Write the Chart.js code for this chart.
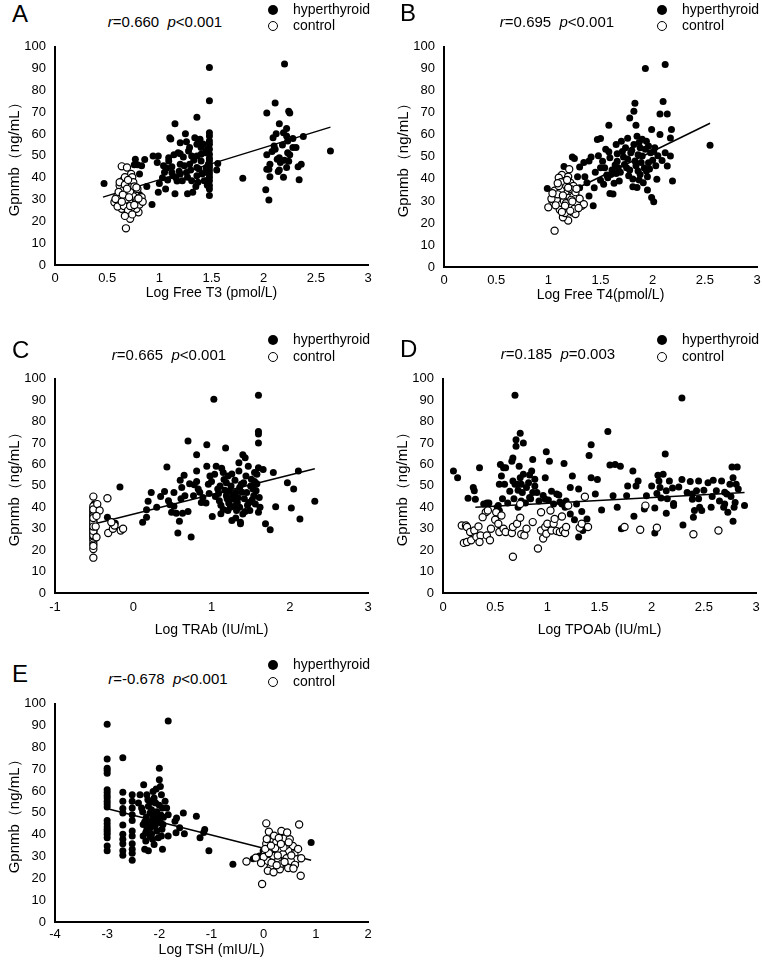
<!DOCTYPE html>
<html><head><meta charset="utf-8">
<script src="https://cdn.jsdelivr.net/npm/chart.js@4.4.1/dist/chart.umd.min.js"></script>
<style>
html,body{margin:0;padding:0;background:#fff;}
body{width:762px;height:964px;position:relative;overflow:hidden;font-family:'Liberation Sans',Arial,sans-serif;color:#000;}
canvas{position:absolute;}
.t{position:absolute;white-space:nowrap;}
.dot{position:absolute;border-radius:50%;box-sizing:border-box;}
</style></head><body>
<script>
// ---------------- DATA ----------------
const panelLetters = ['A','B','C','D','E'];
const rValues = ['0.660','0.695','0.665','0.185','-0.678'];
const pValues = ['<0.001','<0.001','<0.001','=0.003','<0.001'];
const legendLabels = ['hyperthyroid','control'];
const yTitle = 'Gpnmb（ng/mL）';
const xTitles = ['Log Free T3 (pmol/L)','Log Free T4(pmol/L)','Log TRAb (IU/mL)','Log TPOAb (IU/mL)','Log TSH (mIU/L)'];
const yTicks = [0,10,20,30,40,50,60,70,80,90,100];
const yTickLabels = ['0','10','20','30','40','50','60','70','80','90','100'];
const xTicksA = [0,0.5,1,1.5,2,2.5,3];
const xTickLabelsA = ['0','0.5','1','1.5','2','2.5','3'];
const xTicksC = [-1,0,1,2,3];
const xTickLabelsC = ['-1','0','1','2','3'];
const xTicksE = [-4,-3,-2,-1,0,1,2];
const xTickLabelsE = ['-4','-3','-2','-1','0','1','2'];

const hyperA = [[0.47,37.4],[0.61,31],[0.67,26.5],[0.69,28],[0.70,33.3],[0.76,46],[0.79,46],[0.77,48.5],[0.81,41.7],[0.81,32.3],[0.86,48.3],[0.93,27.7],[0.94,50],[0.99,50],[0.98,47],[0.99,33.3],[1.0,37.4],[1.04,45.5],[1.07,44.4],[1.06,34.8],[1.10,58.3],[1.11,57.8],[1.09,49.2],[1.09,47.7],[1.12,42.4],[1.13,40.9],[1.15,64.7],[1.15,32.6],[1.18,51.5],[1.20,51],[1.20,56],[1.20,46.2],[1.20,41.7],[1.22,38.6],[1.25,60.2],[1.26,42.4],[1.27,32.6],[1.28,52.3],[1.29,53.8],[1.29,46.2],[1.31,38.6],[1.32,33.3],[1.34,58.3],[1.36,67.7],[1.36,55.3],[1.36,50],[1.36,44.7],[1.36,40.9],[1.37,37.9],[1.39,57.6],[1.40,53.8],[1.40,50.8],[1.40,47.7],[1.41,41.7],[1.43,38.6],[1.44,51.5],[1.45,44.7],[1.45,38.6],[1.47,46.2],[1.48,90.5],[1.48,75.3],[1.48,60.6],[1.48,59.1],[1.48,56.8],[1.48,55.3],[1.48,53],[1.48,50.8],[1.48,48.9],[1.48,47.7],[1.48,45.9],[1.48,44.7],[1.48,43.2],[1.48,41.7],[1.48,40.2],[1.48,38.6],[1.48,36.4],[1.48,34.8],[1.48,31.8],[1.03,40],[1.08,39],[1.12,45],[1.16,40],[1.17,38.5],[1.19,43],[1.23,49.5],[1.24,45.5],[1.27,40.2],[1.30,43.5],[1.33,48],[1.35,36],[1.38,44],[1.42,55.5],[1.44,42.5],[1.46,36.5],[1.46,53],[1.14,50.5],[0.88,36],[0.83,45.5],[1.05,42.5],[1.26,56.5],[1.38,57],[1.31,50],[1.56,46.5],[1.55,43.5],[1.80,39.8],[2.03,50.5],[2.03,43.9],[2.05,43.9],[2.02,34.5],[2.05,29.8],[2.06,40.5],[2.03,69.7],[2.06,46.2],[2.10,54.5],[2.09,58.3],[2.11,74.2],[2.12,60.2],[2.11,53],[2.15,49.2],[2.15,43.5],[2.14,42.9],[2.15,64.7],[2.16,47],[2.19,60.6],[2.20,48],[2.19,40.2],[2.20,92.1],[2.22,59.1],[2.22,62.6],[2.23,56.8],[2.24,70.5],[2.25,69.7],[2.23,51.5],[2.25,50.5],[2.22,44.7],[2.28,58],[2.28,53.8],[2.31,53.8],[2.33,45],[2.36,46.2],[2.34,39.1],[2.38,58.9],[2.64,52.3],[2.08,52],[2.13,48.5],[2.18,55],[2.24,47.5]];
const ctrlA = [[0.68,16.8],[0.72,21.2],[0.71,24.2],[0.80,24.2],[0.78,25.8],[0.64,45.2],[0.69,44.7],[0.73,41.7],[0.74,40.2],[0.65,38.6],[0.71,37.9],[0.75,37.9],[0.62,36.4],[0.68,35.6],[0.73,35.6],[0.64,33.3],[0.70,32.6],[0.77,33.3],[0.59,31.1],[0.65,30.3],[0.73,30.3],[0.83,31.1],[0.57,28.8],[0.62,28],[0.69,27.7],[0.77,28.8],[0.64,25.8],[0.73,26.2],[0.81,27.7],[0.60,26.8],[0.67,40.2],[0.62,37.9],[0.66,34.5],[0.71,29.5],[0.75,31.5],[0.79,30],[0.63,31.8],[0.68,30],[0.72,33.8],[0.66,27],[0.70,25],[0.74,23.2],[0.61,33.5],[0.67,36.8],[0.70,39],[0.76,36],[0.79,34.8],[0.84,29],[0.58,30.2],[0.65,32.2],[0.69,35],[0.72,27],[0.76,27.5],[0.80,30.5],[0.64,29],[0.78,35.5],[0.71,31],[0.67,22.5]];
const lineA = [[0.46,31.1],[2.64,63.2]];

const hyperB = [[0.99,35.6],[1.15,45.6],[1.23,50],[1.25,49.3],[1.30,45.4],[1.37,38.3],[1.39,32.3],[1.39,48.1],[1.41,49.9],[1.43,27.8],[1.47,57.9],[1.50,58.3],[1.50,45.1],[1.50,39.4],[1.53,37.6],[1.54,45.1],[1.56,41.8],[1.58,64.4],[1.58,52.3],[1.59,49.6],[1.59,33.4],[1.62,33.1],[1.64,46.3],[1.65,55.6],[1.66,51.4],[1.67,45.1],[1.68,39.1],[1.70,57.1],[1.72,49.9],[1.74,54.1],[1.75,45.1],[1.77,41.4],[1.78,67.7],[1.79,51.9],[1.82,55.6],[1.82,70.7],[1.83,74.4],[1.84,64.4],[1.83,48.1],[1.85,36.1],[1.85,59.4],[1.86,43.6],[1.88,54.1],[1.90,50.4],[1.91,38.3],[1.93,90.2],[1.94,57.1],[1.94,43.6],[1.96,47.4],[1.98,51.9],[1.99,62.4],[1.99,31.6],[2.01,29.6],[2.02,54.1],[2.04,39.8],[2.07,60.2],[2.07,69.5],[2.09,48.4],[2.10,75.2],[2.12,92],[2.14,69.5],[2.12,51.9],[2.14,45.9],[2.17,58.6],[2.18,62.4],[2.17,50.4],[2.19,39.1],[2.55,55.3],[1.15,33],[1.20,30],[1.22,35],[1.25,28],[1.18,26.5],[1.27,32],[1.12,38],[1.30,36],[1.60,42],[1.63,38],[1.66,48],[1.69,43],[1.71,52.5],[1.73,46.5],[1.76,49],[1.78,44],[1.80,53],[1.81,40],[1.84,46],[1.86,51],[1.87,56.5],[1.88,42],[1.89,47.5],[1.90,58],[1.92,45],[1.93,53.5],[1.95,41],[1.96,55],[1.97,44.5],[2.00,48.5],[2.01,52.5],[2.03,46],[2.05,50.5],[1.76,58.5],[1.81,36.5],[1.87,39.5],[1.95,35],[1.35,41],[1.45,43],[1.48,50.5],[1.52,48],[1.55,53.5],[1.44,36],[1.57,40.5],[1.61,44],[1.65,42.5],[1.34,47.5],[1.28,41]];
const ctrlB = [[1.06,16.5],[1.0,27.1],[1.05,29.3],[1.11,31.6],[1.06,34.6],[1.20,44.4],[1.13,41.8],[1.16,39.1],[1.21,38.3],[1.24,36.8],[1.14,36.1],[1.18,33.8],[1.23,33.1],[1.27,30.1],[1.32,27.8],[1.08,30.4],[1.13,28.6],[1.18,27.1],[1.23,24.8],[1.26,24.1],[1.19,21.1],[1.14,22.6],[1.10,40.5],[1.12,35],[1.17,37],[1.20,31.5],[1.22,28.5],[1.25,26.5],[1.28,29],[1.15,30],[1.09,33],[1.03,31],[1.11,26],[1.16,24.5],[1.21,35.5],[1.19,41],[1.24,32],[1.30,31],[1.07,28],[1.14,32.5],[1.17,29],[1.12,38.5],[1.21,25.5],[1.26,34],[1.34,28.5],[1.04,33.5],[1.10,36.8],[1.16,27.8],[1.22,30.5],[1.19,36],[1.29,26.8],[1.13,25],[1.23,29.8],[1.27,35.5],[1.09,38],[1.18,39.5]];
const lineB = [[1.0,29.4],[2.55,65.3]];

const hyperC = [[-0.50,41.5],[-0.33,35.4],[-0.23,32.6],[-0.17,49.5],[0.12,33],[0.17,35.4],[0.17,38.9],[0.19,42.8],[0.23,46.9],[0.30,40],[0.40,47.4],[0.43,58.8],[0.45,43.1],[0.47,41.2],[0.49,37.7],[0.52,46.9],[0.55,37.2],[0.57,28],[0.59,33.5],[0.60,52.6],[0.62,49.2],[0.63,37.2],[0.66,45.4],[0.70,71],[0.72,51],[0.74,26.2],[0.77,45.4],[0.81,64.6],[0.81,56.9],[0.81,52],[0.83,48.5],[0.87,42.3],[0.89,44.6],[0.94,69.2],[0.94,59.2],[0.96,50.8],[0.97,46.5],[0.98,54.6],[1.01,35.7],[1.03,90.5],[1.04,55.4],[1.06,59.2],[1.09,46.5],[1.10,43.1],[1.11,50],[1.13,58.2],[1.15,56.2],[1.18,67.7],[1.19,51.5],[1.19,45.4],[1.21,54.6],[1.23,47.7],[1.24,40],[1.26,33.8],[1.28,43.8],[1.30,52.6],[1.31,46.9],[1.32,38.5],[1.33,42.3],[1.35,60.8],[1.36,49.2],[1.37,32.3],[1.38,50.8],[1.40,36.9],[1.40,64.6],[1.43,63.1],[1.44,54.6],[1.45,46.9],[1.47,59.2],[1.48,42.3],[1.49,38.5],[1.51,53.1],[1.53,48.5],[1.54,45.4],[1.55,56.2],[1.57,50.8],[1.57,47.7],[1.58,55.4],[1.60,92.3],[1.60,75.4],[1.60,74.2],[1.60,70],[1.60,58.5],[1.60,37.7],[1.61,44.6],[1.62,40],[1.66,57.7],[1.69,32.3],[1.75,29.5],[1.79,56.2],[1.82,40.3],[1.97,51.5],[2.02,39.7],[2.05,48.5],[2.13,34.6],[2.11,56.9],[2.32,42.8],[1.12,41],[1.15,39],[1.17,48],[1.2,44],[1.22,42],[1.25,50],[1.27,45.5],[1.29,40.5],[1.31,35],[1.34,44.5],[1.36,40],[1.39,47],[1.41,51.5],[1.42,44],[1.46,41],[1.5,50],[1.52,43.5],[1.55,52],[1.56,41.5],[1.58,51],[1.35,57],[1.26,55.5],[1.16,53],[1.08,48.5],[1.43,38],[1.37,33],[1.21,38.5],[1.12,37],[0.7,38],[0.52,40.5],[0.65,55],[0.85,47],[0.93,42],[1.05,45],[1.0,52],[0.78,50.5],[0.35,45],[0.61,44]];
const ctrlC = [[-0.51,16.5],[-0.51,20.5],[-0.51,23],[-0.51,24.5],[-0.51,25.5],[-0.51,26.5],[-0.51,27.5],[-0.51,28.5],[-0.51,29.5],[-0.51,30.5],[-0.51,31.5],[-0.51,32.5],[-0.51,33.5],[-0.51,34.5],[-0.51,35.5],[-0.51,36.5],[-0.51,37.5],[-0.51,38.5],[-0.51,39.5],[-0.51,40.5],[-0.51,45],[-0.51,22],[-0.51,27],[-0.51,30],[-0.51,33],[-0.51,36],[-0.51,39],[-0.51,29],[-0.51,35],[-0.51,31],[-0.46,41.5],[-0.43,38.5],[-0.47,36],[-0.48,31],[-0.47,26],[-0.33,44.2],[-0.32,28],[-0.26,30],[-0.24,31.5],[-0.16,29.2],[-0.13,30],[-0.28,33]];
const lineC = [[-0.49,32.3],[2.32,58]];

const hyperD = [[0.10,56.9],[0.14,53.8],[0.24,44.2],[0.29,49.2],[0.30,47.7],[0.35,58.5],[0.31,43.8],[0.39,41.5],[0.42,42],[0.44,42],[0.53,40.8],[0.54,38.5],[0.55,60],[0.56,54.6],[0.54,50.8],[0.58,58.5],[0.60,58.5],[0.59,50.8],[0.66,61.5],[0.67,63],[0.67,52.3],[0.69,50.8],[0.69,92.3],[0.70,71.5],[0.70,68.5],[0.71,50.8],[0.72,40],[0.73,59.2],[0.74,53.8],[0.74,74.6],[0.75,50.8],[0.76,46.9],[0.77,70],[0.77,55.4],[0.80,49.2],[0.83,44.6],[0.83,55.1],[0.85,56.9],[0.86,46.9],[0.86,62.3],[0.88,53.1],[0.90,46.9],[0.98,43.8],[0.98,53.8],[0.99,66],[1.01,43.4],[1.02,61.5],[1.06,41.5],[1.09,46.2],[1.11,45.8],[1.14,41.5],[1.16,60.5],[1.17,40],[1.22,49.2],[1.22,36.9],[1.24,54.6],[1.26,34.2],[1.28,41.5],[1.30,26.2],[1.30,48.5],[1.34,29.2],[1.38,34.6],[1.40,64.2],[1.42,53.8],[1.42,69.2],[1.46,46.2],[1.52,38.8],[1.58,75.4],[1.60,59.7],[1.63,45.4],[1.65,60],[1.67,40],[1.70,59.2],[1.71,30],[1.76,45.4],[1.77,50],[1.82,56.9],[1.83,35.8],[1.85,50],[1.87,52.3],[1.93,39.2],[1.95,45.4],[2.0,50],[2.03,39.7],[2.03,28],[2.05,46.5],[2.06,55],[2.07,52.3],[2.08,49.2],[2.09,44.3],[2.11,55.4],[2.13,64.9],[2.14,47.7],[2.14,37.2],[2.17,52.3],[2.21,41.8],[2.21,40.8],[2.26,49.5],[2.29,53],[2.29,91],[2.30,31.8],[2.34,46.9],[2.37,52],[2.39,46.2],[2.39,43.8],[2.40,35.4],[2.41,38.5],[2.43,47.7],[2.45,52.3],[2.46,40],[2.48,38.5],[2.54,51.5],[2.57,40],[2.59,52.6],[2.62,47.7],[2.67,52.3],[2.69,40],[2.70,41.5],[2.72,46.2],[2.73,37.7],[2.75,50.8],[2.77,58.8],[2.78,53.8],[2.78,33.5],[2.80,42.3],[2.81,50.8],[2.82,58.8],[2.83,48.5],[2.89,40.8],[0.52,40],[0.57,44],[0.62,42],[0.64,47.5],[0.68,44],[0.72,48],[0.75,43],[0.79,42],[0.82,51.5],[0.84,44],[0.88,50],[0.92,43],[0.96,45.5],[1.04,47.5],[1.12,42.5],[1.18,43],[1.33,38],[1.48,53],[2.15,44],[2.2,49],[2.45,44],[2.5,48],[2.58,45],[2.65,43],[2.7,47],[2.76,45],[2.79,40]];
const ctrlD = [[0.18,31.5],[0.22,31.5],[0.23,30.8],[0.20,23.4],[0.23,23.8],[0.27,24.6],[0.26,28.5],[0.30,29.2],[0.34,31.1],[0.32,26.2],[0.36,26.9],[0.35,23.8],[0.41,37.7],[0.43,38.5],[0.38,35.4],[0.42,26.9],[0.45,24.6],[0.46,30],[0.50,34.2],[0.51,37.7],[0.53,32.3],[0.54,28.5],[0.56,36.2],[0.58,30],[0.60,28.5],[0.66,28],[0.67,30.8],[0.71,32.3],[0.74,41.5],[0.74,35.1],[0.75,27.4],[0.78,26.9],[0.80,30],[0.67,16.9],[0.86,33.1],[0.91,20.8],[0.94,37.7],[0.94,29.2],[0.96,25.4],[0.98,30.8],[0.99,27.7],[1.0,32.3],[1.03,38.5],[1.04,29.2],[1.06,32.3],[1.07,34.6],[1.09,28.9],[1.12,28.5],[1.14,35.7],[1.15,29.2],[1.17,28],[1.18,30.8],[1.20,40.8],[1.31,30.5],[1.33,32.3],[1.36,44.9],[1.39,30.8],[1.74,30.8],[1.89,29.5],[1.94,40.8],[2.05,30.5],[2.40,27.4],[2.64,29.2]];
const lineD = [[0.31,40],[2.89,46.9]];

const hyperE = [[-3.0,90.6],[-3.0,74.7],[-3.0,70.5],[-3.0,69.4],[-3.0,68.2],[-3.0,60.6],[-3.0,59.4],[-3.0,58],[-3.0,56.8],[-3.0,55.3],[-3.0,54.1],[-3.0,52.7],[-3.0,46.5],[-3.0,45],[-3.0,43.5],[-3.0,42.4],[-3.0,41.4],[-3.0,40.2],[-3.0,38.6],[-3.0,34.8],[-3.0,32.6],[-2.7,75.3],[-2.7,59.5],[-2.7,55.3],[-2.7,52],[-2.7,50],[-2.7,44.4],[-2.7,40.2],[-2.7,37.9],[-2.7,35.9],[-2.7,32.6],[-2.7,30.6],[-2.52,28.3],[-2.52,58.3],[-2.52,55.3],[-2.52,52.3],[-2.52,49.2],[-2.52,46.5],[-2.52,41.7],[-2.52,39.4],[-2.52,35.9],[-2.52,33.3],[-2.52,31.5],[-2.30,62.9],[-2.37,58.3],[-2.40,54.5],[-2.34,52.3],[-2.24,58.3],[-2.21,53],[-2.18,50],[-2.15,46.2],[-2.31,44.7],[-2.24,42.4],[-2.31,39.4],[-2.26,37.1],[-2.28,33.3],[-2.21,32.6],[-2.12,59.8],[-2.10,56.8],[-2.07,54.5],[-2.09,49.2],[-2.05,46.2],[-2.05,41.7],[-2.02,38.6],[-2.0,65.2],[-2.0,70.5],[-1.98,62.1],[-1.96,58.3],[-1.94,52.3],[-1.93,44.7],[-1.96,39.4],[-1.94,33.3],[-2.17,43.2],[-2.15,40.2],[-2.13,37.9],[-1.89,55.3],[-1.86,52.3],[-1.83,49.2],[-1.83,39.4],[-1.70,46.2],[-1.67,47.7],[-1.68,40.9],[-1.61,43.2],[-1.54,50],[-1.52,40.5],[-1.83,92.1],[-1.29,48.5],[-1.22,38.6],[-1.13,42.4],[-1.15,41],[-1.05,32.6],[-0.59,26.5],[-0.08,30.3],[0.91,36.4],[-0.01,32.6],[0.05,31.1],[-0.2,29],[-2.25,48],[-2.2,45],[-2.15,51.5],[-2.12,48.5],[-2.08,44],[-2.05,50.5],[-2.02,47],[-2.0,53.5],[-1.97,49],[-1.95,42.5],[-2.18,39.5],[-2.28,46],[-2.32,50.5],[-2.1,35.5],[-2.06,61],[-1.92,48],[-2.22,56],[-2.14,55],[-1.98,45.5],[-2.26,41]];
const ctrlE = [[-0.33,27.7],[-0.15,29.5],[0.05,45.2],[0.68,44.7],[-0.03,17.4],[0.71,21.2],[0.36,40.2],[0.10,41.4],[0.34,41.7],[0.18,37.9],[0.40,38.3],[0.50,37.9],[0.05,35.9],[0.24,36.4],[0.56,34.8],[0.12,33.3],[0.31,32.6],[0.47,32.6],[0.02,31.1],[0.18,30.3],[0.37,31.1],[0.59,31.1],[0.08,28],[0.28,28.3],[0.44,29.2],[0.63,28.8],[0.72,29.2],[0.13,25],[0.31,24.2],[0.47,24.7],[0.08,23.5],[0.22,33.8],[0.27,30.5],[0.42,35],[0.15,27.2],[0.35,26.8],[0.52,28],[0.0,29.8],[0.2,39.5],[0.45,41],[0.29,38.5],[0.06,38],[0.38,34.2],[0.53,30.5],[0.25,26],[0.4,27.5],[0.6,26.2],[0.1,31.5],[-0.05,27],[0.33,35.8],[0.48,36.5],[0.19,22.8],[0.66,33.5],[0.57,24.5],[0.03,33.5],[0.14,35]];
const lineE = [[-3.01,52],[0.91,28.3]];

// ---------------- LAYOUT ----------------
const FONT = "'Liberation Sans', Arial, sans-serif";
const layouts = [
  {hyper:hyperA, ctrl:ctrlA, line:lineA, xt:xTicksA, xl:xTickLabelsA, xmin:0, xmax:3,
   area:{l:55,r:368,t:45,b:265}, tp:6, tg:28, letter:{x:12,b:22}, title:{cx:165,b:27}, leg:{cx:273,y1:10,y2:26,tx:293}},
  {hyper:hyperB, ctrl:ctrlB, line:lineB, xt:xTicksA, xl:xTickLabelsA, xmin:0, xmax:3,
   area:{l:444,r:757,t:45,b:267}, tp:6, tg:28, letter:{x:400,b:21}, title:{cx:557,b:27}, leg:{cx:662,y1:10,y2:26,tx:682}},
  {hyper:hyperC, ctrl:ctrlC, line:lineC, xt:xTicksC, xl:xTickLabelsC, xmin:-1, xmax:3,
   area:{l:55,r:368,t:377,b:593}, tp:7, tg:37, letter:{x:12,b:358}, title:{cx:169,b:360}, leg:{cx:273,y1:340,y2:357,tx:293}},
  {hyper:hyperD, ctrl:ctrlD, line:lineD, xt:xTicksA, xl:xTickLabelsA, xmin:0, xmax:3,
   area:{l:443,r:756,t:377,b:593}, tp:7, tg:37, letter:{x:400,b:357}, title:{cx:558,b:359}, leg:{cx:662,y1:340,y2:357,tx:682}},
  {hyper:hyperE, ctrl:ctrlE, line:lineE, xt:xTicksE, xl:xTickLabelsE, xmin:-4, xmax:2,
   area:{l:55,r:368,t:702,b:922}, tp:5, tg:28, letter:{x:12,b:682}, title:{cx:168,b:684}, leg:{cx:273,y1:665,y2:682,tx:293}}
];

function addText(html, fs, x, base, center){
  const d = document.createElement('div');
  d.className = 't'; d.innerHTML = html;
  d.style.fontSize = fs + 'px'; d.style.lineHeight = fs + 'px';
  d.style.top = (base - 0.8465 * fs) + 'px';
  d.style.left = x + 'px';
  if (center) d.style.transform = 'translateX(-50%)';
  document.body.appendChild(d);
}
function addDot(cx, cy, filled){
  const d = document.createElement('div'); d.className = 'dot';
  const s = 10;
  d.style.width = s + 'px'; d.style.height = s + 'px';
  d.style.left = (cx - s/2) + 'px'; d.style.top = (cy - s/2) + 'px';
  d.style.background = filled ? '#000' : '#fff';
  d.style.border = filled ? 'none' : '1.3px solid #000';
  document.body.appendChild(d);
}
function esc(s){ return s.replace(/&/g,'&amp;').replace(/</g,'&lt;').replace(/>/g,'&gt;'); }
const toPts = arr => arr.map(p => ({x:p[0], y:p[1]}));

layouts.forEach((P, i) => {
  const a = P.area;
  const padTop = 15, padRight = 15, below = 50;
  const W = a.r - a.l + 55 + padRight, H = a.b - a.t + padTop + below;
  const cv = document.createElement('canvas');
  cv.width = W; cv.height = H;
  cv.style.left = (a.l - 55) + 'px'; cv.style.top = (a.t - padTop) + 'px';
  cv.style.width = W + 'px'; cv.style.height = H + 'px';
  document.body.appendChild(cv);
  const hx = P.tg + 8.4;
  new Chart(cv, {
    type: 'scatter',
    data: { datasets: [
      {type:'line', data: toPts(P.line), borderColor:'#000', borderWidth:1.5, pointRadius:0, fill:false, order:3},
      {label: legendLabels[0], data: toPts(P.hyper), backgroundColor:'#000', borderColor:'#000', borderWidth:0, pointRadius:3.5, order:2},
      {label: legendLabels[1], data: toPts(P.ctrl), backgroundColor:'#fff', borderColor:'#000', borderWidth:1.2, pointRadius:3.6, order:1}
    ]},
    options: {
      responsive:false, animation:false, devicePixelRatio:1,
      layout:{padding:{left:0, top:padTop, right:padRight, bottom: below - hx}},
      plugins:{legend:{display:false}, tooltip:{enabled:false}},
      scales:{
        x:{type:'linear', min:P.xmin, max:P.xmax,
           afterBuildTicks: s => { s.ticks = P.xt.map(v => ({value:v})); },
           afterFit: s => { s.height = hx; },
           grid:{display:false, drawTicks:false},
           border:{display:true, color:'#000', width:2},
           ticks:{padding:P.tp, color:'#000', font:{family:FONT, size:13}, maxRotation:0, autoSkip:false,
                  callback:(v, idx) => P.xl[idx]},
           title:{display:true, text:xTitles[i], color:'#000', font:{family:FONT, size:14}, padding:0}},
        y:{type:'linear', min:0, max:100,
           afterBuildTicks: s => { s.ticks = yTicks.map(v => ({value:v})); },
           afterFit: s => { s.width = 55; },
           grid:{display:false, drawTicks:false},
           border:{display:true, color:'#000', width:2},
           ticks:{padding:9, color:'#000', font:{family:FONT, size:13}, autoSkip:false,
                  callback:(v, idx) => yTickLabels[idx]},
           title:{display:true, text:yTitle, color:'#000', font:{family:FONT, size:15}, padding:{top:6, bottom:0}}}
      }
    }
  });
  addText(panelLetters[i], 24, P.letter.x, P.letter.b, false);
  const pv = pValues[i];
  addText('<i>r</i>=' + esc(rValues[i]) + '&nbsp;&nbsp;<i>p</i>' + esc(pv), 15, P.title.cx, P.title.b, true);
  addDot(P.leg.cx, P.leg.y1, true);
  addDot(P.leg.cx, P.leg.y2, false);
  addText(legendLabels[0], 14, P.leg.tx, P.leg.y1 + 4, false);
  addText(legendLabels[1], 14, P.leg.tx, P.leg.y2 + 4, false);
});
</script>
</body></html>
